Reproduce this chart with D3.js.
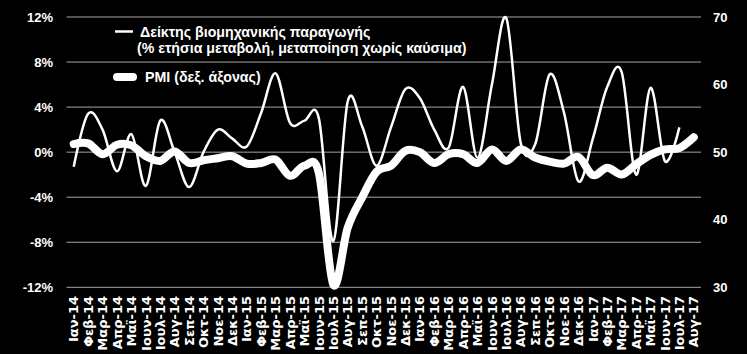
<!DOCTYPE html>
<html>
<head>
<meta charset="utf-8">
<script src="https://cdn.jsdelivr.net/npm/d3@7"></script>
<style>
  body { margin: 0; background: #000; }
  text { font-family: "Liberation Sans", Arial, sans-serif; font-weight: bold; fill: #fff; }
</style>
</head>
<body>
<div id="chart"></div>
<script>
// month labels on the x axis
const months = [
  "Ιαν-14","Φεβ-14","Μαρ-14","Απρ-14","Μαϊ-14","Ιουν-14","Ιουλ-14","Αυγ-14","Σεπ-14","Οκτ-14","Νοε-14","Δεκ-14",
  "Ιαν-15","Φεβ-15","Μαρ-15","Απρ-15","Μαϊ-15","Ιουν-15","Ιουλ-15","Αυγ-15","Σεπ-15","Οκτ-15","Νοε-15","Δεκ-15",
  "Ιαν-16","Φεβ-16","Μαρ-16","Απρ-16","Μαϊ-16","Ιουν-16","Ιουλ-16","Αυγ-16","Σεπ-16","Οκτ-16","Νοε-16","Δεκ-16",
  "Ιαν-17","Φεβ-17","Μαρ-17","Απρ-17","Μαϊ-17","Ιουν-17","Ιουλ-17","Αυγ-17"
];

// industrial production index, % yoy (left axis)
const ipValues = [
  -1.3, 3.4, 2.0, -1.7, 1.6, -3.0, 2.8, 0.0, -3.1, 0.0, 2.0, 1.2,
  0.5, 3.5, 7.0, 2.6, 2.8, 3.0, -7.9, 4.5, 2.3, -1.2, 2.2, 5.6,
  4.8, 2.0, 0.4, 5.8, -0.5, 6.0, 11.9, 0.8, 0.7, 6.9, 3.5, -2.6,
  1.2, 5.8, 7.1, -2.0, 5.7, -0.8, 2.2, null
];

// PMI (right axis)
const pmiValues = [
  51.2, 51.3, 49.7, 51.1, 51.0, 49.4, 48.7, 50.1, 48.4, 48.8, 49.1, 49.4,
  48.3, 48.4, 48.9, 46.5, 48.0, 46.9, 30.4, 38.8, 43.3, 47.1, 48.0, 50.2,
  50.0, 48.4, 49.7, 49.7, 48.4, 50.4, 48.7, 50.4, 49.2, 48.6, 48.3, 49.3,
  46.6, 47.7, 46.7, 48.2, 49.6, 50.4, 50.6, 52.2
];

const leftTicks = [-12, -8, -4, 0, 4, 8, 12];
const rightTicks = [30, 40, 50, 60, 70];

const legendLabels = [
  ["Δείκτης βιομηχανικής παραγωγής", "(% ετήσια μεταβολή, μεταποίηση χωρίς καύσιμα)"],
  ["PMI (δεξ. άξονας)"]
];

const width = 747, height = 354;
const plot = {left: 66.5, right: 701, top: 17, bottom: 287.3};

const svg = d3.select("#chart").append("svg")
  .attr("width", width)
  .attr("height", height)
  .style("background", "#000");

// scales
const x = d3.scalePoint()
  .domain(months)
  .range([plot.left, plot.right])
  .padding(0.5);

const yLeft = d3.scaleLinear().domain([-12, 12]).range([plot.bottom, plot.top]);
const yRight = d3.scaleLinear().domain([30, 70]).range([plot.bottom, plot.top]);

// gridlines
svg.append("g")
  .selectAll("line")
  .data(leftTicks)
  .enter().append("line")
  .attr("x1", plot.left)
  .attr("x2", plot.right)
  .attr("y1", d => yLeft(d))
  .attr("y2", d => yLeft(d))
  .attr("stroke", "#a6a6a6")
  .attr("stroke-width", 1);

// left axis labels
svg.append("g")
  .selectAll("text")
  .data(leftTicks)
  .enter().append("text")
  .attr("x", 53)
  .attr("y", d => yLeft(d))
  .attr("dy", "0.36em")
  .attr("text-anchor", "end")
  .style("font-size", "13px")
  .text(d => d + "%");

// right axis labels
svg.append("g")
  .selectAll("text")
  .data(rightTicks)
  .enter().append("text")
  .attr("x", 713)
  .attr("y", d => yRight(d))
  .attr("dy", "0.36em")
  .style("font-size", "13px")
  .text(d => d);

// x axis labels, rotated
svg.append("g")
  .selectAll("text")
  .data(months)
  .enter().append("text")
  .attr("transform", d => "translate(" + x(d) + ",296) rotate(-90)")
  .attr("dy", "0.36em")
  .attr("text-anchor", "end")
  .style("font-family", "'DejaVu Sans', Verdana, sans-serif")
  .style("font-size", "13px")
  .text(d => d);

const curve = d3.curveCardinal.tension(0);

const ipLine = d3.line()
  .defined(d => d.v !== null)
  .x(d => x(d.m))
  .y(d => yLeft(d.v))
  .curve(curve);

const pmiLine = d3.line()
  .x(d => x(d.m))
  .y(d => yRight(d.v))
  .curve(curve);

svg.append("path")
  .datum(months.map((m, i) => ({m: m, v: ipValues[i]})))
  .attr("d", ipLine)
  .attr("fill", "none")
  .attr("stroke", "#fff")
  .attr("stroke-width", 2.5)
  .attr("stroke-linejoin", "round");

svg.append("path")
  .datum(months.map((m, i) => ({m: m, v: pmiValues[i]})))
  .attr("d", pmiLine)
  .attr("fill", "none")
  .attr("stroke", "#fff")
  .attr("stroke-width", 8)
  .attr("stroke-linejoin", "round")
  .attr("stroke-linecap", "round");

// legend
const legend = svg.append("g");

legend.append("line")
  .attr("x1", 115).attr("x2", 133)
  .attr("y1", 31.5).attr("y2", 31.5)
  .attr("stroke", "#fff").attr("stroke-width", 2.5);

legend.append("text")
  .attr("x", 140).attr("y", 36.5)
  .style("font-size", "14.2px")
  .text(legendLabels[0][0]);

legend.append("text")
  .attr("x", 137).attr("y", 52.5)
  .style("font-size", "14.2px")
  .text(legendLabels[0][1]);

legend.append("line")
  .attr("x1", 117).attr("x2", 133)
  .attr("y1", 77).attr("y2", 77)
  .attr("stroke", "#fff").attr("stroke-width", 8)
  .attr("stroke-linecap", "round");

legend.append("text")
  .attr("x", 145).attr("y", 82)
  .style("font-size", "14.2px")
  .text(legendLabels[1][0]);
</script>
</body>
</html>
